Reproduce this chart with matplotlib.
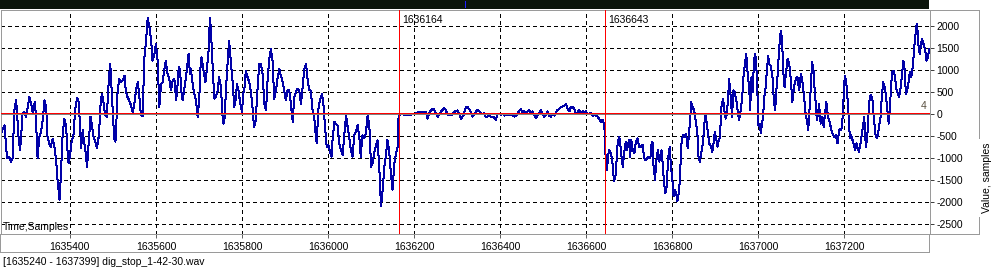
import matplotlib
matplotlib.use("Agg")
import matplotlib.pyplot as plt
import matplotlib.transforms as mtransforms

# ---------------- data ----------------
start_sample = 1635240
end_sample = 1637399
file_name = "dig_stop_1-42-30.wav"
marker_samples = [1636164, 1636643]
x_ticks = [1635400, 1635600, 1635800, 1636000, 1636200, 1636400, 1636600, 1636800, 1637000, 1637200]
y_ticks = [-2500, -2000, -1500, -1000, -500, 0, 500, 1000, 1500, 2000]
cursor_label = "4"

# waveform samples: (offset from start_sample, value)
wave_before = [
    (0, -440), (8, -255), (14, -1005), (19, -968), (23, -1080), (27, -1005), (31, 83), (35, 308), (37, 83),
    (40, -443), (44, -818), (46, -630), (50, 8), (54, 45), (58, -68), (62, 158), (66, 383), (70, 233), (74, 8),
    (76, 158), (79, 270), (81, -68), (85, -1005), (89, -518), (93, -405), (97, -143), (101, 308), (105, 158),
    (108, -518), (112, -668), (116, -743), (120, -555), (124, -743), (128, -1043), (132, -1568), (136, -1943),
    (139, -1418), (143, -518), (147, -105), (151, -255), (155, -893), (157, -1118), (160, -968), (164, -630),
    (169, -443), (172, 83), (177, 368), (180, 308), (184, -293), (186, -780), (190, -368), (192, -555),
    (196, -818), (200, -1193), (203, -780), (208, -68), (211, -218), (215, -518), (219, -630), (223, -780),
    (227, -518), (230, -68), (232, 345), (235, 458), (238, 270), (242, -30), (246, -68), (249, 533), (252, 945),
    (254, 1133), (256, 758), (259, 233), (263, -555), (266, -630), (269, 8), (271, 533), (275, 795), (279, 720),
    (283, 758), (287, 870), (290, 533), (294, 383), (298, 308), (302, 195), (306, 45), (310, 233), (314, 570),
    (318, 720), (321, 458), (325, -30), (329, -53), (333, 1245), (337, 1658), (341, 2183), (345, 1958),
    (349, 1658), (352, 1208), (356, 1320), (360, 1583),
    (364, 1208), (368, 158), (372, 683), (376, 720), (379, 983), (383, 1208), (387, 908), (391, 795), (395, 533),
    (399, 758), (403, 795), (407, 308), (410, 608), (413, 1058), (416, 1020), (419, 533), (422, 308), (426, 570),
    (430, 833), (434, 1208), (436, 1358), (439, 908), (441, 1020), (445, 720), (449, 458), (453, 308),
    (457, -68), (461, 383), (463, 983), (466, 1283), (470, 1020), (475, 720), (478, 983), (482, 1358),
    (484, 1883), (486, 2183), (489, 1658), (493, 833), (496, 345), (499, 383), (503, 495), (507, 833),
    (511, 608), (515, -68), (517, -218), (520, -68), (523, 608), (527, 1208), (530, 1658), (534, 1208),
    (538, 758), (542, 158), (546, 345), (548, 683), (552, 533), (556, 233), (560, 45), (563, 458), (566, 608),
    (569, 983), (573, 833), (577, 720), (581, 495), (585, 83), (588, -293), (592, -143), (596, 533),
    (600, 1133), (604, 1133), (608, 908), (612, 233), (616, 83), (619, 683), (623, 1208), (627, 1470),
    (631, 1208), (635, 345), (639, 533), (643, 833), (647, 1020), (650, 870), (654, 758), (658, 533),
    (662, 308), (666, 533), (670, 533), (674, 195), (678, -180), (681, 345), (685, 495), (689, 570), (693, 533),
    (697, 233), (701, 608), (705, 1020), (709, 1133), (712, 833), (716, 533), (720, 533),
    (724, 83), (728, -68), (732, -555), (734, -668), (737, 83), (742, 345), (746, 458), (750, 158), (753, -293),
    (757, -743), (761, -705), (764, -818), (768, -968), (771, -518), (775, -180), (778, -218), (782, -255),
    (786, -668), (790, -818), (794, -930), (798, -443), (802, -30), (805, -255), (809, -518), (813, -818),
    (817, -968), (821, -480), (825, -405), (829, -255), (833, -555), (836, -968), (840, -480), (844, -555),
    (848, -443), (852, -30), (856, -255), (860, -1193), (864, -1118), (867, -893), (871, -743), (875, -593),
    (879, -1193), (883, -2093), (887, -1718), (891, -1193), (895, -893), (898, -593), (902, -818), (906, -1343),
    (910, -1718), (914, -1118), (918, -893), (922, -743), (924, -30),
]

wave_quiet = [
    (929, 0), (945, -30), (960, 0), (972, 45), (980, 45), (988, 45), (991, -105), (995, 8), (999, 83),
    (1005, 120), (1011, 8), (1015, -68), (1022, 45), (1030, 135), (1034, 83), (1038, -30), (1046, -30),
    (1053, 45), (1061, 83), (1065, 8), (1069, -105), (1075, -30), (1080, 150), (1084, 158), (1088, 113),
    (1092, 38), (1096, -60), (1100, -15), (1104, 60), (1108, 90), (1111, 75), (1115, 15), (1119, 0), (1123, 15),
    (1127, -75), (1131, -60), (1135, -38), (1139, -75), (1142, -60), (1146, -75), (1150, -135), (1154, -15),
    (1158, 0), (1162, -15), (1166, 0), (1170, -38), (1177, -15), (1185, -15), (1193, -60), (1200, -15),
    (1204, 75), (1208, 113), (1212, 15), (1216, 60), (1220, 0), (1224, 60), (1228, 90), (1231, 15), (1235, 60),
    (1239, -15), (1243, -90), (1247, -38), (1251, 15), (1255, 90), (1259, -15), (1262, -60), (1266, -15),
    (1270, 60), (1274, -38), (1278, -60), (1282, 0), (1286, -38), (1290, 38), (1293, 90), (1297, 113),
    (1301, 150), (1305, 165), (1309, 188), (1313, 225), (1317, 113), (1321, 60), (1324, 150), (1328, 165),
    (1332, 113), (1336, 15), (1340, 38), (1344, 90), (1348, 0), (1352, 60), (1355, 38), (1359, 60), (1363, 0),
    (1371, 15), (1375, -38), (1379, -15), (1383, -38), (1386, -60), (1390, -113), (1394, -188), (1398, -135),
    (1402, -225),
]

wave_after = [
    (1406, -1193), (1408, -1268), (1411, -968), (1413, -818), (1417, -893), (1420, -1005), (1423, -1343),
    (1425, -1530), (1429, -1343), (1431, -968), (1433, -668), (1437, -518), (1439, -668), (1442, -968),
    (1445, -1193), (1448, -893), (1452, -630), (1455, -818), (1458, -668), (1460, -593), (1462, -968),
    (1465, -593), (1468, -818), (1472, -893), (1475, -668), (1479, -555), (1483, -743), (1487, -743),
    (1491, -705), (1493, -855), (1496, -1043), (1500, -1043), (1504, -968), (1509, -1005), (1512, -668),
    (1514, -630), (1516, -1118), (1520, -1493), (1522, -1193), (1524, -968), (1527, -818), (1530, -1080),
    (1532, -968), (1535, -818), (1537, -1043), (1541, -1568), (1544, -1793), (1547, -1643), (1549, -1268),
    (1551, -968), (1554, -743), (1557, -1193), (1561, -1568), (1563, -1868), (1566, -1718), (1569, -1793),
    (1572, -1980), (1575, -1793), (1578, -1493), (1580, -893), (1582, -593), (1586, -480), (1589, -518),
    (1592, -443), (1596, -780), (1599, -443), (1602, -68), (1604, 270), (1607, 158), (1611, 83), (1615, -180),
    (1619, -518), (1621, -968), (1624, -1080), (1626, -968), (1630, -743), (1633, -443), (1636, -68), (1638, 8),
    (1640, -218), (1644, -518), (1646, -668), (1650, -743), (1653, -855), (1656, -668), (1659, -405),
    (1662, -555), (1665, -743), (1668, -593), (1671, -518), (1674, 158), (1678, 345), (1681, 83), (1684, -105),
    (1687, 8), (1690, 383), (1692, 795), (1696, 383), (1699, -68), (1702, 533), (1705, 495), (1709, 308),
    (1712, 83), (1715, -143), (1718, 8), (1722, 308), (1726, 908), (1729, 1133), (1732, 1358), (1735, 945),
    (1739, 570), (1741, 83), (1744, 833), (1747, 495), (1750, 1245), (1753, 1358), (1757, 833), (1760, -263),
    (1763, -218), (1766, -443), (1768, -255), (1771, -68), (1774, 383), (1777, 608), (1780, 983), (1783, 1320),
    (1785, 1133), (1789, 1095), (1793, 833), (1796, 308), (1799, 83), (1802, 533), (1805, 908), (1808, 1433),
    (1812, 1883), (1815, 1733), (1818, 945), (1821, 608), (1824, 908), (1828, 1245), (1832, 1133), (1836, 720),
    (1839, 270), (1843, 608), (1847, 795), (1851, 833), (1855, 533), (1859, 908), (1861, 833), (1864, 608),
    (1867, 308), (1870, 8), (1874, -218), (1876, -368), (1878, -68), (1882, 608), (1885, 1170), (1888, 1020),
    (1891, 533), (1894, 158), (1896, -143), (1899, 8), (1901, 233), (1905, -218), (1909, -68), (1912, -293),
    (1915, 8), (1918, 270), (1922, -68), (1925, -143), (1929, -330), (1932, -443), (1936, -518), (1940, -480),
    (1944, -668), (1946, -518), (1949, -330), (1953, -368), (1956, -68), (1959, 533), (1961, 870), (1964, 758),
    (1967, 383), (1970, -68), (1973, -555), (1976, -480), (1979, -593), (1982, -705), (1985, -818),
    (1988, -668), (1991, -780), (1994, -855), (1998, -630), (2002, -368), (2006, -68), (2010, -743),
    (2013, -555), (2016, 8), (2019, 383), (2022, 420), (2025, 345), (2028, -30), (2032, -443), (2035, -555),
    (2038, -480), (2041, -255), (2044, -68), (2047, 383), (2050, 720), (2053, 645), (2056, 458), (2059, 158),
    (2063, -218), (2066, 158), (2069, 720), (2072, 983), (2075, 983), (2078, 795), (2081, 570), (2084, 458),
    (2087, 383), (2090, 533), (2093, 795), (2097, 1208), (2100, 1020), (2103, 458), (2106, 533), (2109, 720),
    (2112, 945), (2115, 833), (2118, 983), (2121, 1320), (2124, 1695), (2128, 2033), (2130, 1883),
    (2132, 1583), (2135, 1358), (2138, 1583), (2141, 1695), (2145, 1545), (2148, 1433), (2151, 1208),
    (2154, 1283), (2157, 1470),
]

# ---------------- styling ----------------
W, H = 994, 270
FONT = ["Liberation Sans", "DejaVu Sans"]
FS = 7.5
BORDER = "#9a9a9a"
PX = 0.72  # one pixel in points at 100 dpi
plt.rcParams["font.family"] = FONT
plt.rcParams["axes.unicode_minus"] = False

fig = plt.figure(figsize=(W / 100, H / 100), dpi=100)
fig.patch.set_facecolor("white")


def px_rect(x0, y0, x1, y1):
    return [x0 / W, 1 - y1 / H, (x1 - x0) / W, (y1 - y0) / H]


def bare(a):
    a.set_xticks([])
    a.set_yticks([])


def style_spines(a, color=BORDER):
    for s in a.spines.values():
        s.set_color(color)
        s.set_linewidth(PX)


# top dark bar with view-position tick
bar = fig.add_axes(px_rect(0, 0, 929, 9))
bare(bar)
bar.set_facecolor("#0b150b")
for s in bar.spines.values():
    s.set_visible(False)
bar.set_xlim(start_sample, end_sample)
bar.axvline((start_sample + end_sample) / 2, ymin=0.2, ymax=0.9, color="#2020ff", lw=PX)

# x label box
xbox = fig.add_axes(px_rect(0, 234, 929, 252))
bare(xbox)
style_spines(xbox)

# y label box
ybox = fig.add_axes(px_rect(930, 10, 979, 234))
bare(ybox)
style_spines(ybox)

# main plot
ax = fig.add_axes(px_rect(1, 10, 930, 234))
ax.set_xlim(start_sample, end_sample)
ax.set_ylim(-2720, 2356)
style_spines(ax)

ax.set_xticks(x_ticks)
ax.set_xticklabels([str(t) for t in x_ticks], fontsize=FS)
ax.set_yticks(y_ticks)
ax.set_yticklabels([str(t) for t in y_ticks], fontsize=FS)
ax.yaxis.tick_right()
ax.tick_params(axis="x", direction="out", length=3, width=PX, color="#606060", pad=3)
ax.tick_params(axis="y", direction="out", length=3, width=PX, color="#404040", pad=1.5)
ax.grid(True, color="#000000", linestyle=(0, (4, 3)), linewidth=PX, antialiased=False)
ax.set_axisbelow(True)

xs, vs = [], []
for seg in (wave_before, wave_quiet, wave_after):
    for off, v in seg:
        xs.append(start_sample + off)
        vs.append(v)
ax.plot(xs, vs, color="#0000a8", lw=PX, antialiased=False, zorder=2)

# zero line (grey) with red overlay one pixel above
ax.axhline(0, color="#808080", lw=PX, zorder=3)
red_trans = mtransforms.offset_copy(ax.get_yaxis_transform(), fig=fig, x=0, y=1, units="dots")
ax.plot([0, 1], [0, 0], transform=red_trans, color="#ff0000", lw=PX, zorder=3.5)

for m in marker_samples:
    ax.axvline(m, color="#ff0000", lw=PX, zorder=4)
    ax.annotate(str(m), xy=(m, 1), xycoords=("data", "axes fraction"),
                xytext=(4, -10), textcoords="offset pixels",
                ha="left", va="center", fontsize=FS, color="#000000")

ax.annotate(cursor_label, xy=(1, 0), xycoords=("axes fraction", "data"),
            xytext=(-3, 8), textcoords="offset pixels",
            ha="right", va="center", fontsize=FS, color="#5a5040")

ax.annotate("Time,Samples", xy=(0, 0), xycoords="axes fraction",
            xytext=(2, 7), textcoords="offset pixels",
            ha="left", va="center", fontsize=FS, color="#000000")

fig.text(987.5 / W, 1 - 178 / H, "Value, samples", rotation=90, ha="center", va="center",
         fontsize=FS, color="#000000",
         bbox=dict(facecolor="white", edgecolor="none", pad=3))

fig.text(3 / W, 1 - 262 / H, f"[{start_sample} - {end_sample}] {file_name}",
         ha="left", va="center", fontsize=FS, color="#000000")

fig.savefig("out.png", dpi=100, facecolor="white")
